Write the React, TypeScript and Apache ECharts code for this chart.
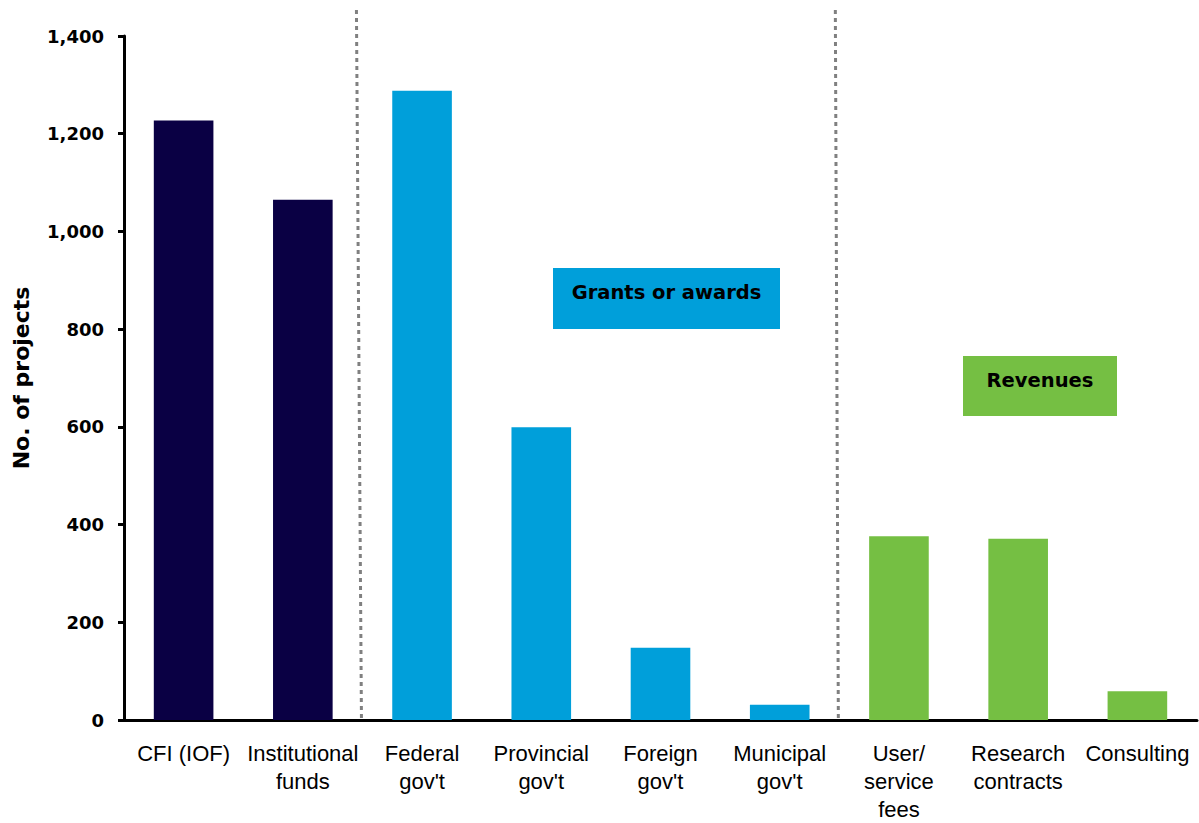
import React, { useEffect, useRef } from "react";
import * as echarts from "echarts";

const categories = [
  "CFI (IOF)",
  "Institutional\nfunds",
  "Federal\ngov't",
  "Provincial\ngov't",
  "Foreign\ngov't",
  "Municipal\ngov't",
  "User/\nservice\nfees",
  "Research\ncontracts",
  "Consulting",
];
const projectCounts = [1227, 1065, 1288, 599, 148, 31, 376, 371, 59];
const fundGroups = ["cfi", "cfi", "grants", "grants", "grants", "grants", "revenues", "revenues", "revenues"];
const groupColors: Record<string, string> = {
  cfi: "#0A0044",
  grants: "#009FDA",
  revenues: "#75BF43",
};
const yTicks = { min: 0, max: 1400, interval: 200 };
const groupBoxes = [
  { text: "Grants or awards", color: "#009FDA", x: 553, y: 268, w: 227, h: 61, ty: 292 },
  { text: "Revenues", color: "#75BF43", x: 963, y: 356, w: 154, h: 60, ty: 380 },
];
const dividerAfter = [1, 5];
const dividerTopShift = [-6, -4];

export default function App() {
  const ref = useRef<HTMLDivElement>(null);
  useEffect(() => {
    if (!ref.current) return;
    const chart = echarts.init(ref.current, null, { renderer: "svg" });
    const boldFont = "DejaVu Sans, Liberation Sans, Arial, sans-serif";
    const regFont = "Liberation Sans, Arial, sans-serif";
    chart.setOption({
      animation: false,
      backgroundColor: "#ffffff",
      grid: {
        left: 124,
        right: 2,
        top: 36,
        bottom: 103,
        containLabel: false,
        outerBoundsMode: "none",
      },
      xAxis: {
        type: "category",
        data: categories,
        axisLine: { lineStyle: { color: "#000", width: 3 } },
        axisTick: { inside: true, length: 6, lineStyle: { color: "#000", width: 3 } },
        axisLabel: {
          color: "#000",
          fontFamily: regFont,
          fontSize: 22,
          lineHeight: 28,
          margin: 19,
          interval: 0,
        },
      },
      yAxis: {
        type: "value",
        min: yTicks.min,
        max: yTicks.max,
        interval: yTicks.interval,
        name: "No. of projects",
        nameLocation: "middle",
        nameRotate: 90,
        nameGap: 92,
        nameTextStyle: { color: "#000", fontFamily: boldFont, fontWeight: "bold", fontSize: 22 },
        axisLine: { show: true, lineStyle: { color: "#000", width: 3 } },
        axisTick: { show: true, length: 6, lineStyle: { color: "#000", width: 3 } },
        splitLine: { show: false },
        axisLabel: {
          color: "#000",
          fontFamily: boldFont,
          fontWeight: "bold",
          fontSize: 18,
          margin: 20,
          formatter: (v: number) => v.toLocaleString("en-US"),
        },
      },
      series: [
        {
          type: "bar",
          barWidth: "50%",
          data: projectCounts.map((v, i) => ({
            value: v,
            itemStyle: { color: groupColors[fundGroups[i]] },
          })),
        },
      ],
    });

    const yBottom = chart.convertToPixel({ yAxisIndex: 0 }, 0) as number;
    const graphics: any[] = [];
    dividerAfter.forEach((idx, k) => {
      const a = chart.convertToPixel({ xAxisIndex: 0 }, idx) as number;
      const b = chart.convertToPixel({ xAxisIndex: 0 }, idx + 1) as number;
      const x = (a + b) / 2;
      graphics.push({
        type: "line",
        shape: { x1: x + dividerTopShift[k], y1: 10, x2: x - 1, y2: yBottom - 2 },
        style: { stroke: "#808080", lineWidth: 3, lineDash: [4, 4] },
        z: 10,
      });
    });
    groupBoxes.forEach((g) => {
      graphics.push({
        type: "rect",
        shape: { x: g.x, y: g.y, width: g.w, height: g.h },
        style: { fill: g.color },
        z: 10,
      });
      graphics.push({
        type: "text",
        x: g.x + g.w / 2,
        y: g.ty,
        style: {
          text: g.text,
          fill: "#000",
          font: `bold 19.5px ${boldFont}`,
          align: "center",
          verticalAlign: "middle",
        },
        z: 11,
      });
    });
    chart.setOption({ graphic: graphics });

    return () => chart.dispose();
  }, []);
  return (
    <div
      ref={ref}
      style={{ position: "fixed", left: 0, top: 0, width: 1199, height: 823 }}
    />
  );
}
